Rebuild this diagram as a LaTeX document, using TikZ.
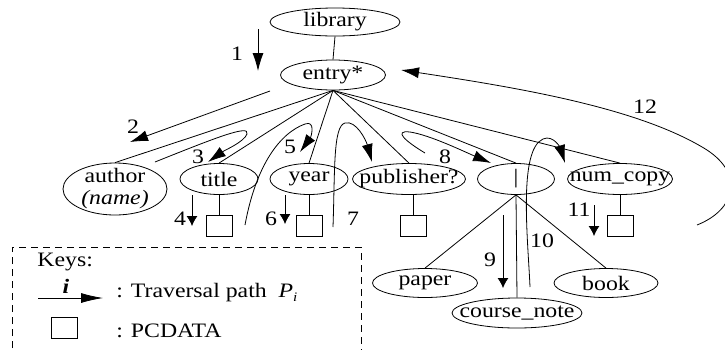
\documentclass[tikz,border=0pt]{standalone}
\usepackage{fontspec}
\setmainfont[FakeStretch=1.16]{Liberation Serif}
\usetikzlibrary{shapes.geometric,arrows.meta}

\begin{document}
\begin{tikzpicture}[x=1pt,y=-1pt,
  font=\fontsize{20.5}{22}\selectfont, line width=0.8pt,
  el/.style={draw, ellipse, inner sep=0pt, minimum height=31pt},
  pc/.style={draw, rectangle, minimum width=26pt, minimum height=21pt, inner sep=0pt},
  trav/.style={-{Latex[length=18pt,width=11pt]}},
  travshort/.style={-{Latex[length=10pt,width=11pt]}},
  num/.style={inner sep=0pt}]
\useasboundingbox (0,0) rectangle (725,349);

% schema tree
\node[el, minimum width=130pt, minimum height=28pt, label=center:library] (library) at (335,22) {};
\node[el, minimum width=105pt, minimum height=30pt, label=center:entry*] (entry) at (333,75) {};
\node[el, minimum width=104pt, minimum height=52pt,
      label={[align=center]center:author\\\textit{(name)}}] (author) at (115,189) {};
\node[el, minimum width=78pt, label=center:title] (title) at (219,179) {};
\node[el, minimum width=78pt, label=center:year] (year) at (309,179) {};
\node[el, minimum width=113pt, label=center:publisher?] (publisher) at (409,179) {};
\node[el, minimum width=77pt, label=center:|] (choice) at (516,179) {};
\node[el, minimum width=105pt, label=center:num\_copy] (numcopy) at (620,179) {};
\node[el, minimum width=105pt, minimum height=29pt, label=center:paper] (paper) at (425,283) {};
\node[el, minimum width=104pt, minimum height=29pt, label=center:book] (book) at (606,283) {};
\node[el, minimum width=130pt, minimum height=30pt, label=center:course\_note] (coursenote) at (517,313) {};

\node[pc] (titlepc) at (219,226) {};
\node[pc] (yearpc) at (309,226) {};
\node[pc] (pubpc) at (413,226) {};
\node[pc] (numpc) at (620,226) {};

\draw (library.south) -- (entry.north);
\draw (entry.south) -- (author.north);
\draw (entry.south) -- (title.north);
\draw (entry.south) -- (year.north);
\draw (entry.south) -- (publisher.north);
\draw (entry.south) -- (choice.north);
\draw (entry.south) -- (numcopy.north);
\draw (choice.south) -- (paper.north);
\draw (choice.south) -- (book.north);
\draw (choice.south) -- (coursenote.north);
\draw (title.south) -- (titlepc.north);
\draw (year.south) -- (yearpc.north);
\draw (publisher.south -| pubpc.north) -- (pubpc.north);
\draw (numcopy.south) -- (numpc.north);

% traversal paths
\draw[trav] (258,29) -- (258,71);
\node[num] (n1) at (237,54) {1};
\draw[trav] (270,91) -- (130,142);
\node[num] (n2) at (133,127) {2};
\draw[trav] (155,162) .. controls (215,138) and (250,124) .. (247,134)
  .. controls (244,142) and (225,150) .. (208,162);
\node[num] (n3) at (198,157) {3};
\draw[travshort] (192,195) -- (192,226);
\node[num] (n4) at (180,219) {4};
\draw[trav] (245,225) .. controls (256,165) and (280,133) .. (305,124)
  .. controls (316,120) and (311,137) .. (300,152);
\node[num] (n5) at (290,147) {5};
\draw[travshort] (285,195) -- (285,224);
\node[num] (n6) at (271,219) {6};
\draw[trav] (333,227) .. controls (335,170) and (333,126) .. (345,123)
  .. controls (356,120) and (366,140) .. (372,162);
\node[num] (n7) at (353,219) {7};
\draw[trav] (425,153) .. controls (405,141) and (393,130) .. (410,132)
  .. controls (430,135) and (465,152) .. (491,163);
\node[num] (n8) at (445,157) {8};
\draw[travshort] (503,215) -- (503,288);
\node[num] (n9) at (490,260) {9};
\draw[trav] (530,287) .. controls (528,240) and (518,150) .. (543,139)
  .. controls (554,134) and (561,150) .. (565,163);
\node[num] (n10) at (542,241) {10};
\draw[travshort] (594,205) -- (594,236);
\node[num] (n11) at (579,210) {11};
\draw[trav] (697,225) .. controls (735,210) and (745,175) .. (707,150)
  .. controls (640,108) and (520,88) .. (401,70);
\node[num] (n12) at (645,107) {12};

% key
\draw[dash pattern=on 7pt off 5pt] (12,360) -- (12,247) -- (361,247) -- (361,360);
\node[anchor=west, inner sep=0pt] (keys) at (37,262) {Keys:};
\coordinate (ka) at (38,298);
\coordinate (kb) at (103,298);
\draw[-{Latex[length=22pt,width=10pt]}] (ka) -- (kb);
\node[inner sep=0pt] (ki) at (66,286) {\textbf{\textit{i}}};
\node[anchor=west, inner sep=0pt] (kpath) at (116,293)
  {: Traversal path\ \ \textit{P}\raisebox{-0.35ex}{\fontsize{13}{13}\selectfont\textit{i}}};
\node[pc] (kbox) at (64,328) {};
\node[anchor=west, inner sep=0pt] (kpc) at (116,331) {: PCDATA};
\end{tikzpicture}
\end{document}
